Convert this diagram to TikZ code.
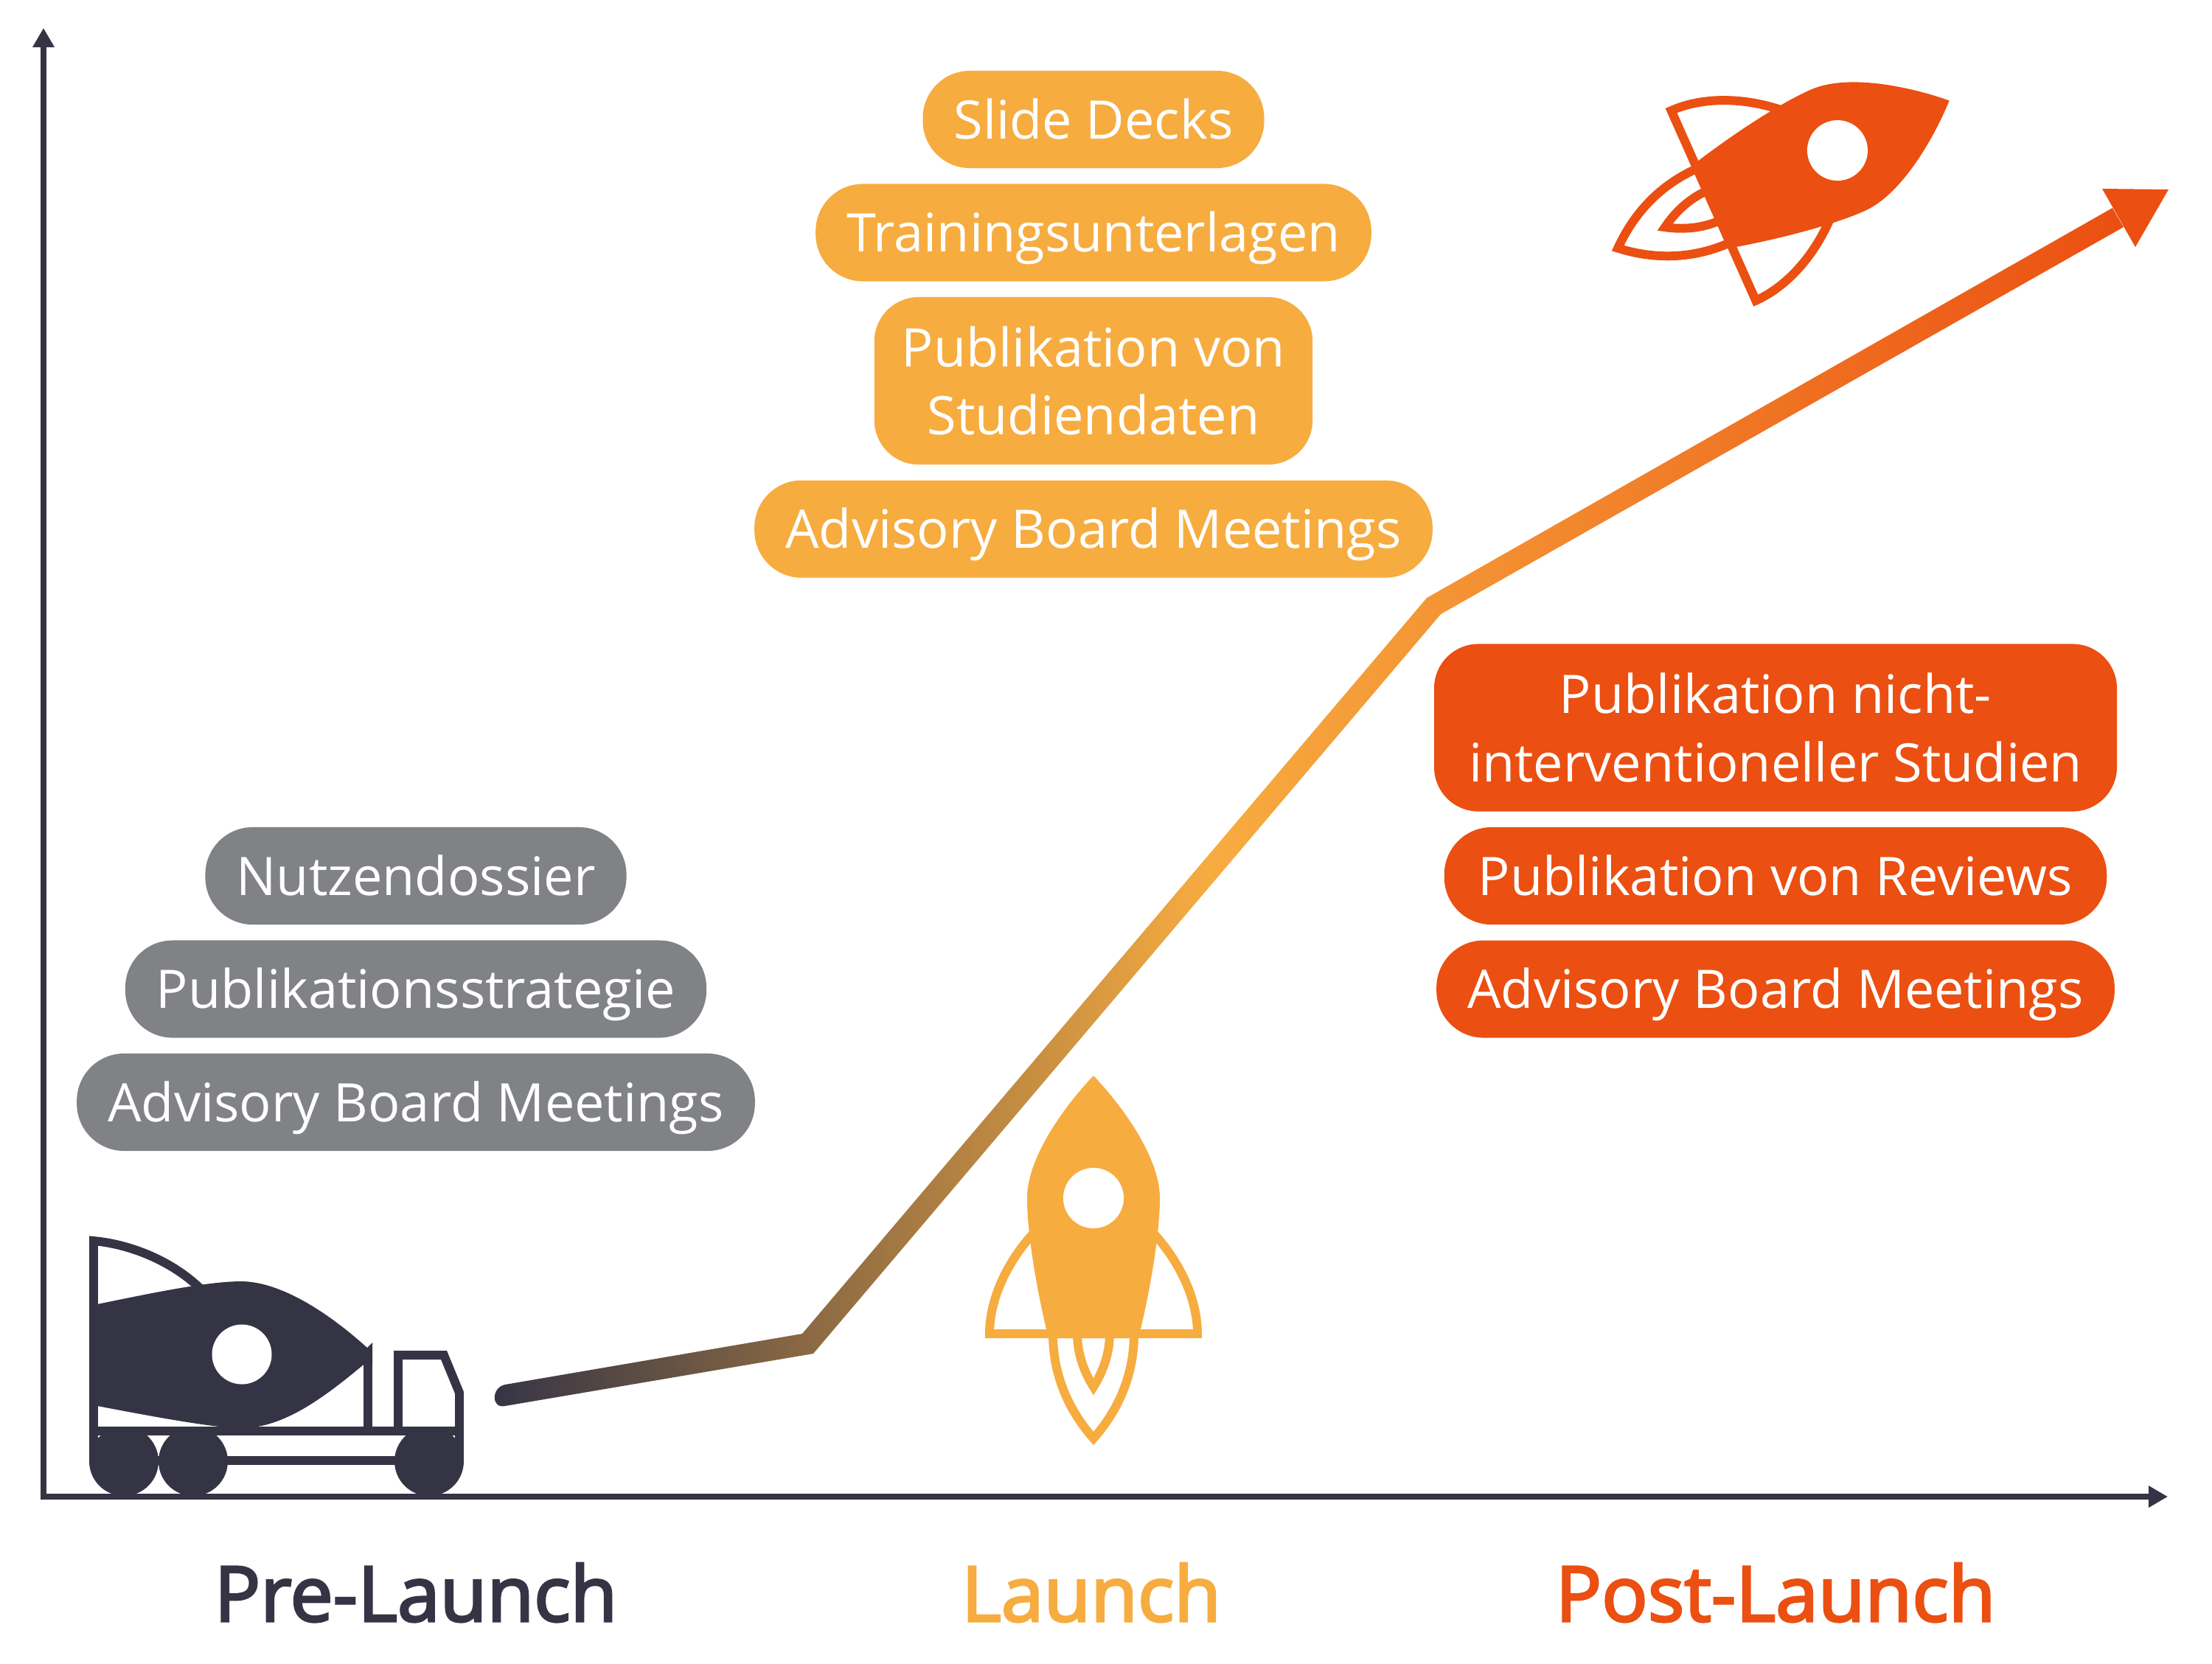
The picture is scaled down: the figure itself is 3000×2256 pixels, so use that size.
\documentclass[tikz,border=0pt]{standalone}
\usepackage{fontspec}
\setmainfont{Open Sans}
\newfontfamily\phasefont[FakeBold=3]{Open Sans}
\usetikzlibrary{arrows.meta, positioning}

\definecolor{preDark}{HTML}{353445}
\definecolor{preGrey}{HTML}{808285}
\definecolor{launchOrange}{HTML}{F7AC40}
\definecolor{postRed}{HTML}{EB4F11}

\pgfdeclarehorizontalshading{growthShade}{100bp}{color(0bp)=(preDark); color(25bp)=(preDark); color(47bp)=(launchOrange); color(75bp)=(postRed); color(100bp)=(postRed)}

\tikzset{
    pill/.style={rounded corners=0.64cm, minimum height=1.32cm, inner xsep=0.42cm, inner ysep=0cm, text height=0.68cm, text depth=0.16cm, align=center, text=white, font=\fontsize{20.5}{26.3}\selectfont},
    twoLines/.style={rounded corners=0.6cm, minimum height=2.27cm, text height=, text depth=},
    greyPill/.style={pill, fill=preGrey},
    orangePill/.style={pill, fill=launchOrange},
    redPill/.style={pill, fill=postRed},
    phase/.style={anchor=base, font=\phasefont\fontsize{29.5}{34}\selectfont},
    axis/.style={draw=preDark, line width=2.4pt, {Triangle[length=0.26cm, width=0.28cm]}-{Triangle[length=0.26cm, width=0.28cm]}},
    iconline/.style={line width=3.4pt, miter limit=20},
    pics/rocket/.style={code={
        \draw[iconline, draw=#1] (76,42) .. controls (115,82) and (141,135) .. (141,184) -- (-141,184) .. controls (-141,135) and (-115,82) .. (-76,42);
        \draw[iconline, draw=#1] (55,184) .. controls (55,245) and (30,292) .. (0,326) .. controls (-30,292) and (-55,245) .. (-55,184);
        \draw[iconline, draw=#1] (22,184) .. controls (22,212) and (12,237) .. (0,256) .. controls (-12,237) and (-22,212) .. (-22,184);
        \fill[#1] (0,-166) .. controls (30,-135) and (90,-60) .. (90,0) .. controls (90,50) and (76,130) .. (61,190) -- (-61,190) .. controls (-76,130) and (-90,50) .. (-90,0) .. controls (-90,-60) and (-30,-135) .. (0,-166) -- cycle;
        \fill[white] (0,0) circle (41);
    }}
}

\begin{document}
\begin{tikzpicture}[x=0.01cm, y=-0.01cm, node distance=0.2cm]
    \useasboundingbox (0,0) rectangle (3000,2256);

    \coordinate (ytip) at (59,38);
    \coordinate (origin) at (59,2030);
    \coordinate (xtip) at (2940,2030);
    \draw[axis] (ytip) -- (origin) -- (xtip);

    \coordinate (startUp) at (685,1878);
    \coordinate (startDown) at (685,1907);
    \coordinate (kinkAUp) at (1088,1809);
    \coordinate (kinkADown) at (1103,1836);
    \coordinate (kinkBUp) at (1935,811);
    \coordinate (kinkBDown) at (1954,833);
    \coordinate (endUp) at (2865,282);
    \coordinate (endDown) at (2880,308);
    \shade[shading=growthShade] (startUp) -- (kinkAUp) -- (kinkBUp) -- (endUp) -- (endDown) -- (kinkBDown) -- (kinkADown) -- (startDown) .. controls (666,1911) and (666,1882) .. (startUp) -- cycle;
    \fill[postRed] (2851,256) -- (2941,257) -- (2896,335) -- cycle;

    \node[greyPill] (nutzen) at (564,1188) {Nutzendossier};
    \node[greyPill, below=of nutzen] (strategie) {Publikationsstrategie};
    \node[greyPill, below=of strategie] (boardPre) {Advisory Board Meetings};

    \node[orangePill] (slides) at (1483,162) {Slide Decks};
    \node[orangePill, below=of slides] (training) {Trainingsunterlagen};
    \node[orangePill, twoLines, inner xsep=0.37cm, below=of training] (studien) {Publikation von\\Studiendaten};
    \node[orangePill, below=of studien] (boardLaunch) {Advisory Board Meetings};

    \node[redPill, twoLines, inner xsep=0.47cm] (nicht) at (2408,987) {Publikation nicht-\\interventioneller Studien};
    \node[redPill, inner xsep=0.46cm, below=of nicht] (reviews) {Publikation von Reviews};
    \node[redPill, below=of reviews] (boardPost) {Advisory Board Meetings};

    \node[phase, text=preDark] (pre) at (564,2199) {Pre-Launch};
    \node[phase, text=launchOrange] (launch) at (1480,2199) {Launch};
    \node[phase, text=postRed] (post) at (2408,2199) {Post-Launch};

    \pic at (1483,1625) {rocket={launchOrange}};
    \pic[rotate=-66] at (2492,204) {rocket={postRed}};

    \draw[iconline, draw=preDark] (127,1982) -- (127,1683) .. controls (180,1688) and (235,1712) .. (272,1748);
    \fill[preDark] (127,1770) .. controls (200,1755) and (280,1738) .. (327,1738) .. controls (380,1738) and (445,1780) .. (498,1828) -- (505,1821) -- (505,1851) -- (493,1851) .. controls (440,1895) and (385,1937) .. (327,1937) .. controls (290,1937) and (200,1920) .. (127,1906) -- cycle;
    \fill[white] (328,1837) circle (40.5);
    \draw[iconline, draw=preDark] (121,1940.5) -- (629,1940.5);
    \draw[iconline, draw=preDark] (168,1981) -- (582,1981);
    \draw[iconline, draw=preDark] (499,1845) -- (499,1940);
    \draw[iconline, draw=preDark] (540,1940) -- (540,1838) -- (602,1838) -- (623,1889) -- (623,1982);
    \fill[preDark] (168,1982) circle (47) (262,1982) circle (47) (582,1982) circle (47);
\end{tikzpicture}
\end{document}
